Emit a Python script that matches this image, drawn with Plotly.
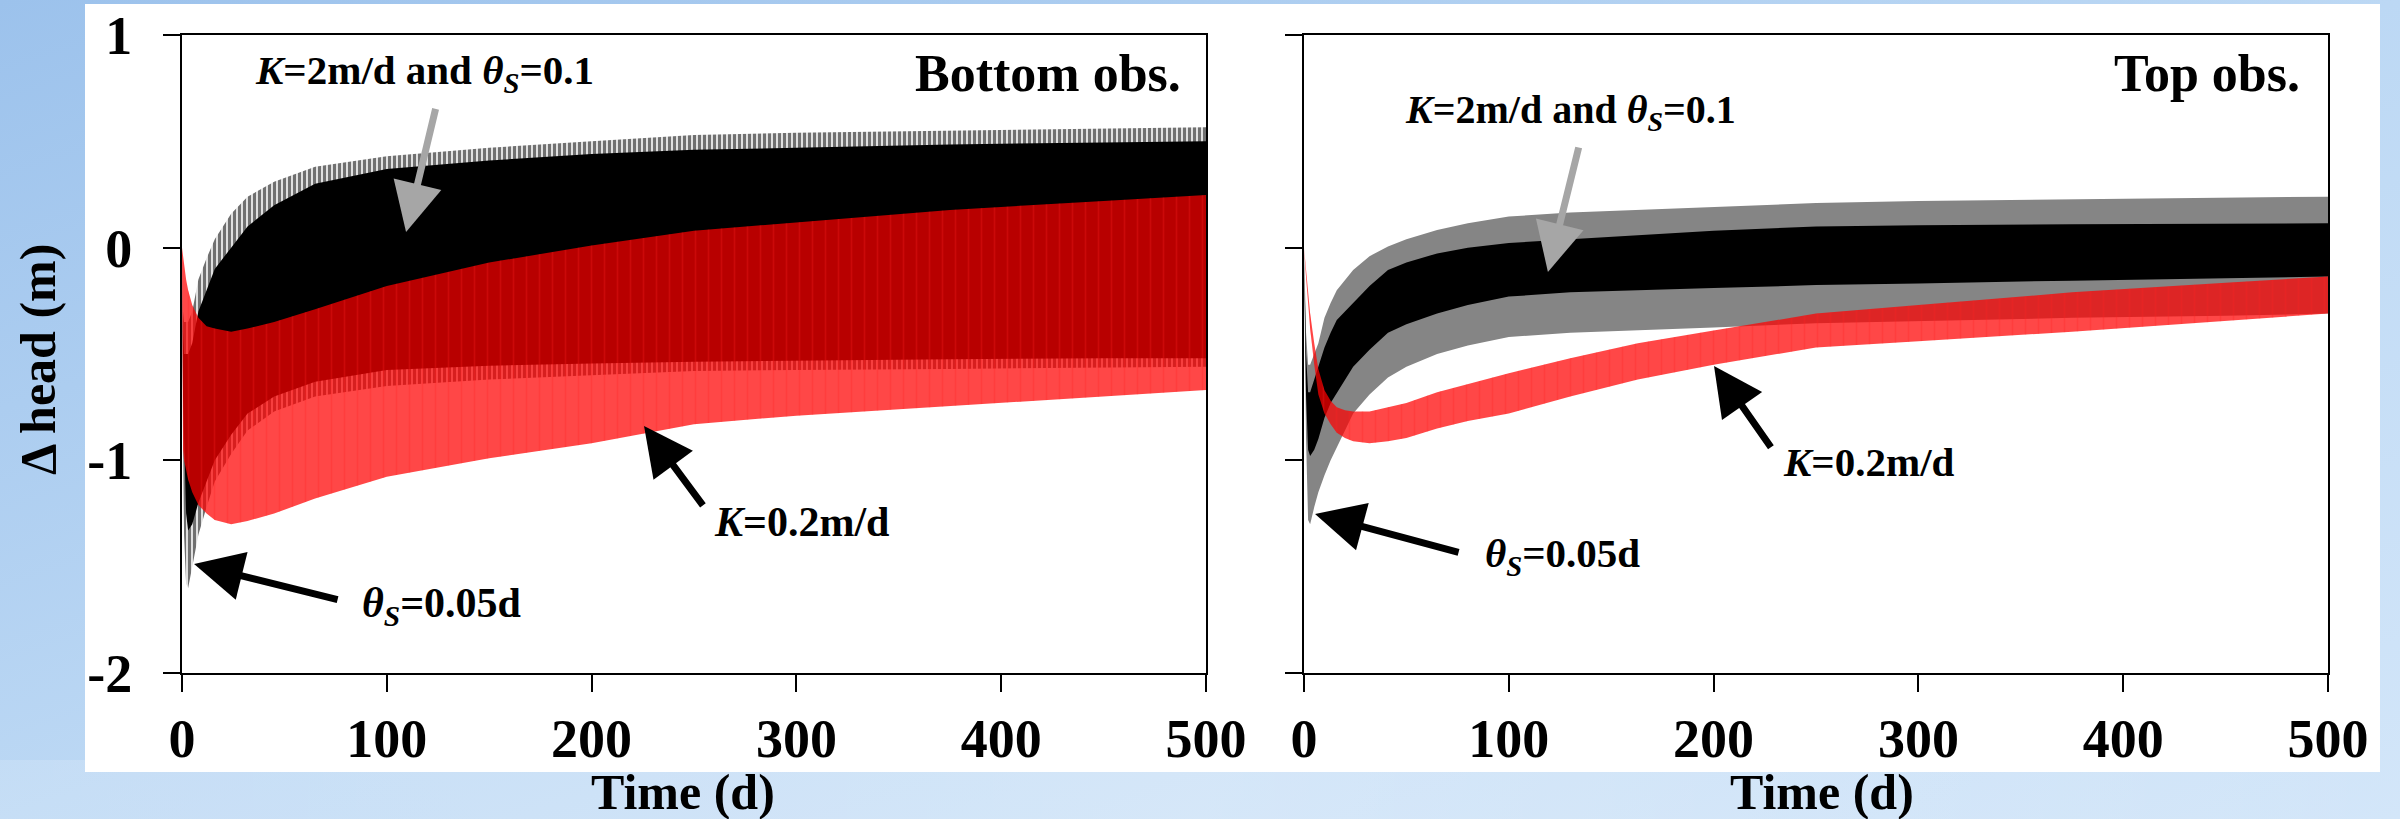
import base64
import plotly.graph_objects as go

# ---------------- data ----------------
# Bottom observation panel
t_bot = [0, 0.5, 1, 2, 3, 5, 8, 12, 16, 24, 32, 45, 65, 100, 150, 200, 250, 300, 375, 450, 500]
bot_black_outer_up = [0.0, -0.3, -0.35, -0.35, -0.35, -0.3, -0.15, -0.05, 0.04, 0.16, 0.24, 0.31, 0.38, 0.43, 0.47, 0.50, 0.53, 0.54, 0.55, 0.56, 0.566]
bot_black_core_up = [0.0, -0.4, -0.5, -0.5, -0.5, -0.45, -0.3, -0.2, -0.1, 0.0, 0.1, 0.2, 0.3, 0.37, 0.41, 0.44, 0.46, 0.47, 0.485, 0.495, 0.50]
bot_black_core_lo = [0.0, -0.7, -0.95, -1.25, -1.33, -1.3, -1.2, -1.1, -1.0, -0.88, -0.78, -0.7, -0.63, -0.575, -0.555, -0.545, -0.536, -0.53, -0.525, -0.52, -0.52]
bot_black_outer_lo = [0.0, -0.9, -1.35, -1.58, -1.6, -1.5, -1.35, -1.22, -1.1, -0.97, -0.86, -0.77, -0.7, -0.65, -0.62, -0.60, -0.58, -0.575, -0.57, -0.565, -0.56]
bot_red_up = [0.0, -0.04, -0.08, -0.15, -0.2, -0.27, -0.33, -0.37, -0.38, -0.395, -0.38, -0.35, -0.29, -0.18, -0.07, 0.01, 0.08, 0.12, 0.177, 0.22, 0.248]
bot_red_lo = [0.0, -0.95, -1.0, -1.05, -1.09, -1.15, -1.21, -1.25, -1.28, -1.30, -1.285, -1.25, -1.18, -1.077, -0.99, -0.92, -0.83, -0.79, -0.747, -0.70, -0.669]

# Top observation panel
t_top = [0, 1, 2, 3, 5, 7, 10, 13, 16, 20, 24, 32, 41, 50, 65, 80, 100, 130, 163, 200, 250, 300, 375, 450, 500]
top_black_outer_up = [0.0, -0.4, -0.55, -0.55, -0.5, -0.45, -0.33, -0.26, -0.2, -0.15, -0.105, -0.04, 0.005, 0.04, 0.083, 0.115, 0.146, 0.165, 0.177, 0.19, 0.21, 0.22, 0.228, 0.235, 0.24]
top_black_core_up = [0.0, -0.5, -0.68, -0.68, -0.62, -0.56, -0.47, -0.4, -0.34, -0.3, -0.26, -0.18, -0.105, -0.07, -0.027, 0.0, 0.022, 0.04, 0.06, 0.08, 0.099, 0.105, 0.11, 0.113, 0.115]
top_black_core_lo = [0.0, -0.7, -0.95, -0.98, -0.95, -0.9, -0.8, -0.73, -0.68, -0.62, -0.56, -0.48, -0.40, -0.36, -0.31, -0.27, -0.23, -0.21, -0.20, -0.19, -0.176, -0.168, -0.155, -0.145, -0.136]
top_black_outer_lo = [0.0, -0.9, -1.28, -1.3, -1.22, -1.15, -1.07, -1.0, -0.94, -0.86, -0.78, -0.69, -0.61, -0.56, -0.50, -0.46, -0.42, -0.40, -0.39, -0.375, -0.355, -0.345, -0.33, -0.32, -0.31]
top_red_up = [0.0, -0.1, -0.2, -0.31, -0.45, -0.57, -0.67, -0.72, -0.75, -0.765, -0.77, -0.77, -0.75, -0.73, -0.68, -0.64, -0.59, -0.52, -0.45, -0.39, -0.31, -0.27, -0.21, -0.165, -0.136]
top_red_lo = [0.0, -0.14, -0.27, -0.38, -0.55, -0.69, -0.78, -0.83, -0.87, -0.895, -0.91, -0.92, -0.91, -0.895, -0.85, -0.815, -0.78, -0.70, -0.62, -0.55, -0.47, -0.44, -0.395, -0.345, -0.31]

x_ticks = [0, 100, 200, 300, 400, 500]
y_ticks = [1, 0, -1, -2]
y_tick_labels = ["1", "0", "-1", "-2"]

# ---------------- styling ----------------
W, H = 2400, 819
FONT = "Liberation Serif"
RED_FILL = "rgba(255,0,0,0.72)"


def px_x(p):
    return p / W


def px_y(p):
    return 1 - p / H


fig = go.Figure()


def band(t, up, lo, color, xa, ya, pattern=None):
    kw = {}
    if pattern is not None:
        kw["fillpattern"] = pattern
    fig.add_trace(go.Scatter(
        x=list(t) + list(t)[::-1],
        y=list(up) + list(lo)[::-1],
        mode="lines", line=dict(width=0, color=color),
        fill="toself", fillcolor=color,
        hoverinfo="skip", showlegend=False, xaxis=xa, yaxis=ya, **kw))


STREAKS = dict(shape="|", fgcolor="rgba(255,30,30,0.55)", bgcolor="rgba(0,0,0,0)",
               size=13, solidity=0.12)

band(t_bot, bot_black_outer_up, bot_black_outer_lo, "#a9a9a9", "x", "y",
     pattern=dict(shape="|", fgcolor="black", bgcolor="#e0e0e0", size=5, solidity=0.6))
band(t_bot, bot_black_core_up, bot_black_core_lo, "#000000", "x", "y")
band(t_bot, bot_red_up, bot_red_lo, RED_FILL, "x", "y")
band(t_bot, bot_red_up, bot_red_lo, "rgba(0,0,0,0)", "x", "y", pattern=STREAKS)

band(t_top, top_black_outer_up, top_black_outer_lo, "#858585", "x2", "y2")
band(t_top, top_black_core_up, top_black_core_lo, "#000000", "x2", "y2")
band(t_top, top_red_up, top_red_lo, RED_FILL, "x2", "y2")
band(t_top, top_red_up, top_red_lo, "rgba(0,0,0,0)", "x2", "y2", pattern=STREAKS)

axis_common = dict(
    showline=True, linecolor="black", linewidth=2, mirror=True,
    ticks="outside", ticklen=17, tickwidth=2, tickcolor="black",
    showgrid=False, zeroline=False, fixedrange=True, automargin=False,
    tickfont=dict(family=FONT, size=54, color="black", weight="bold"),
)

ydom = [px_y(673), px_y(35)]
fig.update_layout(
    xaxis=dict(domain=[px_x(182), px_x(1206)], range=[0, 500], tickvals=x_ticks,
               ticklabelstandoff=0, anchor="y", **axis_common),
    yaxis=dict(domain=ydom, range=[-2, 1], tickvals=y_ticks, ticktext=y_tick_labels,
               ticklabelstandoff=20, anchor="x", **axis_common),
    xaxis2=dict(domain=[px_x(1304), px_x(2328)], range=[0, 500], tickvals=x_ticks,
                ticklabelstandoff=0, anchor="y2", **axis_common),
    yaxis2=dict(domain=ydom, range=[-2, 1], tickvals=y_ticks, showticklabels=False,
                anchor="x2", **axis_common),
)

# background gradient (slide) + white panel
svg = ('<svg xmlns="http://www.w3.org/2000/svg" width="2400" height="819" preserveAspectRatio="none">'
       '<defs><linearGradient id="g" x1="0" y1="0" x2="1" y2="1">'
       '<stop offset="0" stop-color="#9cc2ec"/><stop offset="0.5" stop-color="#bcd8f4"/>'
       '<stop offset="1" stop-color="#d3e6f9"/></linearGradient>'
       '<linearGradient id="h" x1="0" y1="0" x2="1" y2="0">'
       '<stop offset="0" stop-color="#ffffff" stop-opacity="0.15"/>'
       '<stop offset="0.5" stop-color="#ffffff" stop-opacity="0.25"/>'
       '<stop offset="1" stop-color="#ffffff" stop-opacity="0"/></linearGradient></defs>'
       '<rect width="2400" height="819" fill="url(#g)"/>'
       '<rect y="760" width="2400" height="59" fill="url(#h)"/></svg>')
uri = "data:image/svg+xml;base64," + base64.b64encode(svg.encode()).decode()
fig.add_layout_image(dict(source=uri, xref="paper", yref="paper", x=0, y=1, sizex=1, sizey=1,
                          xanchor="left", yanchor="top", sizing="stretch", layer="below"))
fig.add_shape(type="rect", xref="paper", yref="paper", x0=px_x(85), x1=px_x(2380),
              y0=px_y(772), y1=px_y(4), fillcolor="white", line=dict(width=0), layer="below")


def label(text, x, y, xa, ya, size=41, xanchor="left"):
    fig.add_annotation(text=text, x=x, y=y, xref=xa, yref=ya, showarrow=False,
                       xanchor=xanchor, yanchor="middle",
                       font=dict(family=FONT, size=size, color="black", weight="bold"))


def arrow(tip, tail, color, xa, ya):
    fig.add_annotation(x=tip[0], y=tip[1], ax=tail[0], ay=tail[1], xref=xa, yref=ya,
                       axref=xa, ayref=ya, text="", showarrow=True, arrowhead=2,
                       arrowsize=1.4, arrowwidth=7, arrowcolor=color, standoff=0)


K2 = "<i>K</i>=2m/d and <i>θ<sub>S</sub></i>=0.1"
K02 = "<i>K</i>=0.2m/d"
TH = "<i>θ<sub>S</sub></i>=0.05d"

# left panel
label(K2, 34.7, 0.82, "x", "y")
label("Bottom obs.", 488.8, 0.82, "x", "y", size=52, xanchor="right")
label(K02, 258.8, -1.29, "x", "y", size=42)
label(TH, 86.9, -1.685, "x", "y", size=42)
arrow((109.4, 0.074), (124.0, 0.66), "#a6a6a6", "x", "y")
arrow((225.6, -0.838), (254.9, -1.219), "black", "x", "y")
arrow((5.9, -1.488), (76.7, -1.657), "black", "x", "y")

# right panel
label(K2, 48.3, 0.638, "x2", "y2", size=40)
label("Top obs.", 487.3, 0.82, "x2", "y2", size=52, xanchor="right")
label(K02, 232.9, -1.0075, "x2", "y2", size=41)
label(TH, 87.4, -1.45, "x2", "y2", size=41)
arrow((119.1, -0.114), (134.3, 0.478), "#a6a6a6", "x2", "y2")
arrow((200.2, -0.556), (228.5, -0.946), "black", "x2", "y2")
arrow((5.4, -1.252), (76.2, -1.435), "black", "x2", "y2")

# axis titles
fig.add_annotation(text="Δ head (m)", x=px_x(38), y=px_y(360), xref="paper", yref="paper",
                   showarrow=False, textangle=-90, xanchor="center", yanchor="middle",
                   font=dict(family=FONT, size=50, color="black", weight="bold"))
for cx in (683, 1822):
    fig.add_annotation(text="Time (d)", x=px_x(cx), y=px_y(792), xref="paper", yref="paper",
                       showarrow=False, xanchor="center", yanchor="middle",
                       font=dict(family=FONT, size=50, color="black", weight="bold"))

fig.update_layout(width=W, height=H, autosize=False,
                  margin=dict(l=0, r=0, t=0, b=0, pad=0, autoexpand=False),
                  paper_bgcolor="#c2dbf5", plot_bgcolor="white",
                  showlegend=False)

fig.write_html("out.html", config={"displayModeBar": False},
               post_script="document.body.style.margin='0';"
                           "document.body.style.overflow='hidden';")
